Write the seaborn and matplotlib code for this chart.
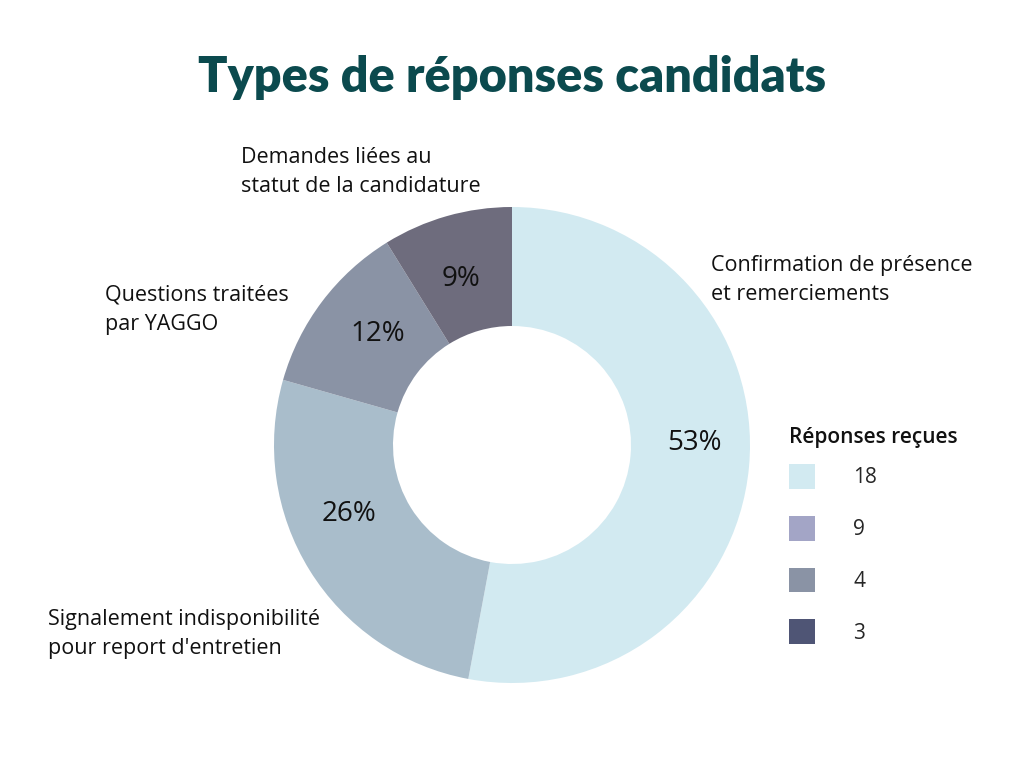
import matplotlib.pyplot as plt
from matplotlib.patches import Patch
import numpy as np
import seaborn as sns

sns.set_theme(style="white")
plt.rcParams['font.family'] = ['Open Sans', 'DejaVu Sans']

categories = ["Confirmation de présence\net remerciements",
              "Signalement indisponibilité\npour report d'entretien",
              "Questions traitées\npar YAGGO",
              "Demandes liées au\nstatut de la candidature"]
counts = [18, 9, 4, 3]
slice_colors = ["#D2EAF1", "#A9BDCB", "#8A93A5", "#6E6C7D"]
legend_labels = ["18", "9", "4", "3"]
legend_colors = ["#D2EAF1", "#A3A5C6", "#8A93A5", "#4F5575"]

fig = plt.figure(figsize=(10.24, 7.68), dpi=100)
ax = fig.add_axes([274 / 1024, 85 / 768, 476 / 1024, 476 / 768])

wedges, texts = ax.pie(counts, colors=slice_colors, startangle=90, counterclock=False,
                       radius=1, wedgeprops=dict(width=0.5, linewidth=0))
ax.set_xlim(-1, 1)
ax.set_ylim(-1, 1)

# percentage labels on the ring (radius, angle offset from wedge middle)
total = sum(counts)
pct_pos = [(0.765, 5.9), (0.745, -8.8), (0.731, -2.5), (0.73, 1.2)]
for w, c, (r, da) in zip(wedges, counts, pct_pos):
    ang = np.deg2rad((w.theta1 + w.theta2) / 2 + da)
    ax.text(r * np.cos(ang), r * np.sin(ang), "{:.0f}%".format(100 * c / total),
            ha="center", va="center", fontsize=20, color="#111111")

# outside category labels
label_pos = [(711, 280), (48, 634), (105, 310), (241, 172)]
for txt, (x, y) in zip(categories, label_pos):
    fig.text(x / 1024, 1 - y / 768, txt, ha="left", va="center", fontsize=15.5,
             color="#111111", linespacing=1.5)

fig.text(0.5, 1 - 78 / 768, "Types de réponses candidats", ha="center", va="center",
         fontsize=35, fontweight="heavy", color="#0B4A4E",
         family=["Lato", "DejaVu Sans"])

fig.text(789 / 1024, 1 - 437 / 768, "Réponses reçues", ha="left", va="center",
         fontsize=15, fontweight="semibold", color="#111111")

handles = [Patch(facecolor=c, edgecolor="none") for c in legend_colors]
leg = fig.legend(handles, legend_labels, loc="upper left",
                 bbox_to_anchor=(789 / 1024, 1 - 464 / 768), frameon=False,
                 fontsize=15, handlelength=1.25, handleheight=1.45,
                 handletextpad=1.83, labelspacing=1.3, borderpad=0, borderaxespad=0)

fig.savefig("out.png", dpi=100, facecolor="white")
